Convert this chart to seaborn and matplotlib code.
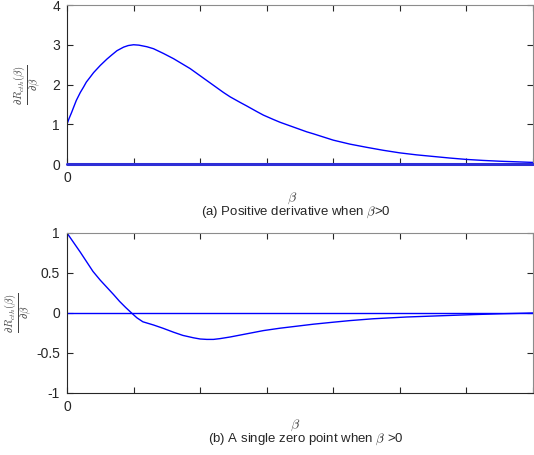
import numpy as np
import pandas as pd
import matplotlib
matplotlib.use('Agg')
import matplotlib.pyplot as plt
import seaborn as sns

# %% Datos

# (a) derivada positiva
beta_a = [0.0, 0.03, 0.07, 0.1, 0.14, 0.2, 0.25, 0.29, 0.35, 0.4, 0.45, 0.5, 0.55,
          0.6, 0.67, 0.75, 0.85, 0.92, 1.0, 1.08, 1.2, 1.3, 1.45, 1.6, 1.7, 1.85,
          1.95, 2.1, 2.2, 2.35, 2.45, 2.6, 2.7, 2.85, 2.95, 3.1, 3.2, 3.35, 3.45,
          3.6, 3.7, 3.85, 4.0, 4.25, 4.5, 4.75, 5.0, 5.25, 5.5, 5.75, 6.0, 6.25,
          6.5, 6.75, 7.0]
deriv_a = [1.0, 1.14, 1.3, 1.43, 1.6, 1.8, 1.94, 2.06, 2.19, 2.3, 2.39, 2.48, 2.56,
           2.64, 2.74, 2.85, 2.94, 2.98, 3.0, 2.99, 2.95, 2.9, 2.78, 2.65, 2.55, 2.4,
           2.28, 2.1, 1.98, 1.8, 1.69, 1.55, 1.46, 1.32, 1.23, 1.12, 1.05, 0.96, 0.9,
           0.81, 0.76, 0.68, 0.6, 0.5, 0.42, 0.345, 0.28, 0.23, 0.19, 0.15, 0.115, 0.09,
           0.07, 0.055, 0.04]

# (b) un solo cero
beta_b = [0.0, 0.2, 0.39, 0.5, 0.6, 0.7, 0.79, 0.88, 0.97, 1.05, 1.14, 1.3, 1.44,
          1.6, 1.74, 1.9, 2.0, 2.1, 2.2, 2.3, 2.45, 2.7, 2.95, 3.2, 3.45, 3.7,
          4.0, 4.25, 4.6, 5.1, 5.6, 6.1, 6.5, 7.0]
deriv_b = [1.0, 0.76, 0.52, 0.41, 0.32, 0.23, 0.145, 0.07, 0.0, -0.06, -0.11, -0.15,
           -0.19, -0.24, -0.28, -0.31, -0.325, -0.33, -0.33, -0.32, -0.3, -0.26, -0.22,
           -0.19, -0.165, -0.14, -0.115, -0.095, -0.072, -0.05, -0.035, -0.02, -0.01, 0.0]

x_ticks = [0, 1, 2, 3, 4, 5, 6, 7]
x_tick_labels = ['0', '', '', '', '', '', '', '']
y_ticks_a = [0, 1, 2, 3, 4]
y_ticks_b = [-1, -0.5, 0, 0.5, 1]
y_tick_labels_b = ['-1', '-0.5', '0', '0.5', '1']

captions = [r'(a) Positive derivative when $\beta$>0',
            r'(b) A single zero point when $\beta$ >0']
ylabel = r'$\frac{\partial R_{cth}(\beta)}{\partial \beta}$'

# %% Estilo

sns.set_style('ticks')
plt.rcParams['font.family'] = ['Liberation Sans', 'DejaVu Sans']
plt.rcParams['mathtext.fontset'] = 'cm'
plt.rcParams['xtick.direction'] = 'in'
plt.rcParams['ytick.direction'] = 'in'

W, H = 534, 455
fig = plt.figure(figsize=(W / 100, H / 100), dpi=100)

def caja(left, top, right, bottom):
    return fig.add_axes([left / W, 1 - bottom / H, (right - left) / W, (bottom - top) / H])

ax_a = caja(67, 5, 533, 164)
ax_b = caja(67, 233, 533, 393)

df_a = pd.DataFrame({'beta': beta_a, 'deriv': deriv_a})
df_b = pd.DataFrame({'beta': beta_b, 'deriv': deriv_b})

sns.lineplot(data=df_a, x='beta', y='deriv', ax=ax_a, color='#0000ff', lw=1.0)
ax_a.axhline(0, color='#2e2ed6', lw=2.2, zorder=5, clip_on=False)
sns.lineplot(data=df_b, x='beta', y='deriv', ax=ax_b, color='#0000ff', lw=1.0)
ax_b.axhline(0, color='#0000ff', lw=1.0)

for ax, yt in [(ax_a, y_ticks_a), (ax_b, y_ticks_b)]:
    ax.set_xlim(0, 7)
    ax.set_ylim(yt[0], yt[-1])
    ax.set_xticks(x_ticks)
    ax.set_xticklabels(x_tick_labels)
    ax.set_yticks(yt)
    ax.tick_params(axis='both', which='both', top=True, right=True,
                   length=4, width=0.8, labelsize=10, colors='#262626', pad=5)
    for s in ax.spines.values():
        s.set_visible(True)
        s.set_color('#262626')
        s.set_linewidth(0.8)
    ax.spines['top'].set_color('#8c8c8c')
    ax.spines['right'].set_color('#8c8c8c')
    ax.set_xlabel('')
    ax.set_ylabel(ylabel, fontsize=11, color='#404040')

# posicion horizontal del titulo del eje y (borde derecho en pixeles)
ax_a.yaxis.set_label_coords((43 - 67) / 466, 0.5)
ax_b.yaxis.set_label_coords((34 - 67) / 466, 0.5)

ax_a.set_yticklabels([str(v) for v in y_ticks_a])
ax_b.set_yticklabels(y_tick_labels_b)

# Etiquetas beta y pies de figura
fig.text(292 / W, 1 - 198 / H, r'$\beta$', ha='center', va='center', fontsize=10, color='#404040')
fig.text(296 / W, 1 - 212 / H, captions[0], ha='center', va='center', fontsize=9.5)
fig.text(295 / W, 1 - 425 / H, r'$\beta$', ha='center', va='center', fontsize=10, color='#404040')
fig.text(306 / W, 1 - 439 / H, captions[1], ha='center', va='center', fontsize=9.5)

fig.savefig('out.png', dpi=100)
